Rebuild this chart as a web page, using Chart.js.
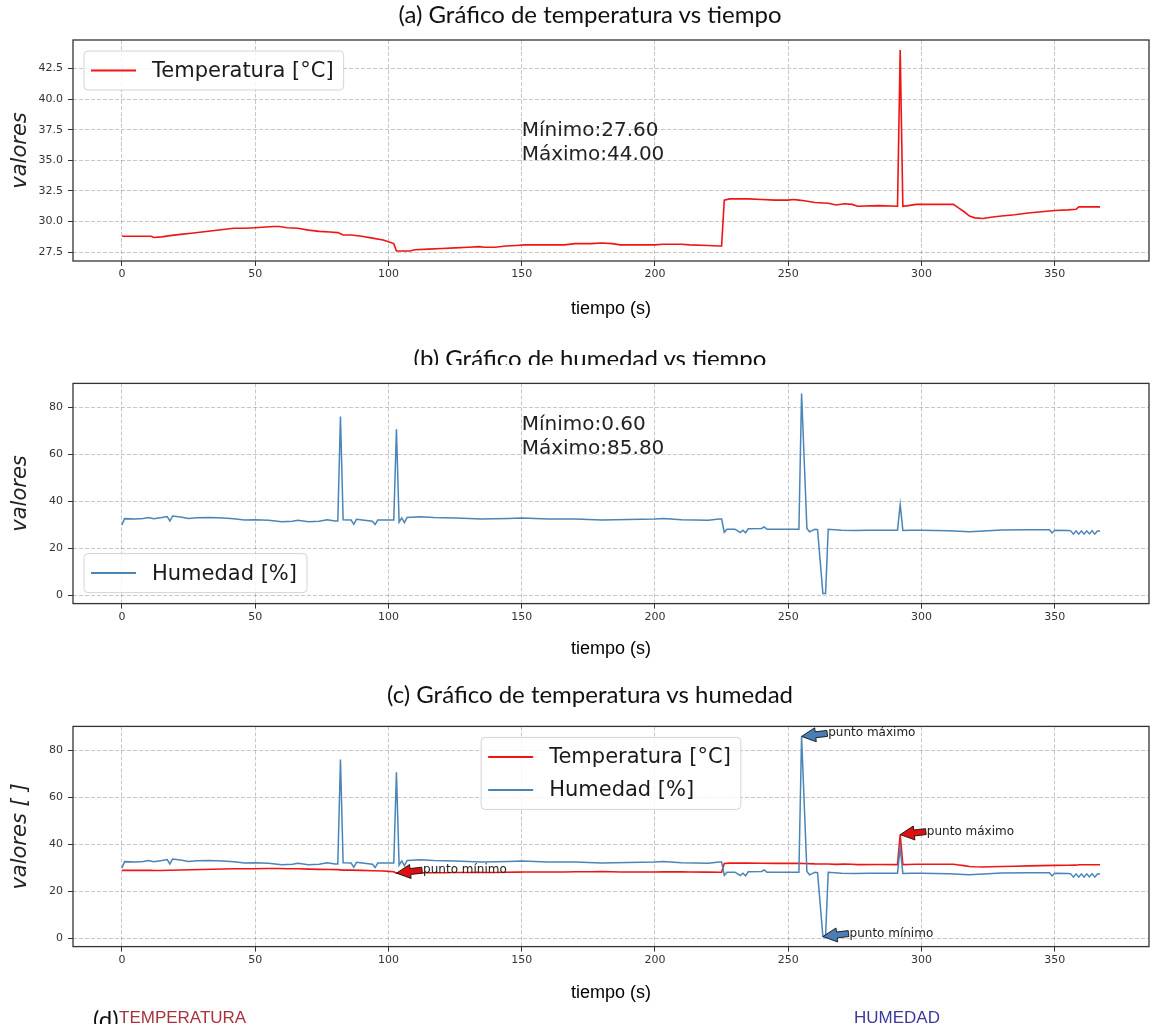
<!DOCTYPE html>
<html lang="es">
<head>
<meta charset="utf-8">
<title>Temperatura y humedad vs tiempo</title>
<script src="https://cdn.jsdelivr.net/npm/chart.js@4.4.0/dist/chart.umd.min.js"></script>
<style>
  body { margin: 0; background: #fff; }
  #hoja { position: relative; width: 1152px; height: 1032px; overflow: hidden; background: #fff; }
  #hoja canvas { position: absolute; left: 0; }
  .titulo { position: absolute; left: 0; width: 1180px; text-align: center; overflow: hidden;
            font-family: Lato, "Open Sans", sans-serif; font-size: 24px; line-height: 28px; color: #111; white-space: nowrap; }
  .etiqueta { position: absolute; font-family: "Liberation Sans", Arial, sans-serif; font-size: 17px; line-height: 20px; white-space: nowrap; }
</style>
</head>
<body>
<div id="hoja">
  <canvas id="graficoA" width="1152" height="330" style="top:0px"></canvas>
  <canvas id="graficoB" width="1152" height="335" style="top:335px"></canvas>
  <canvas id="graficoC" width="1152" height="335" style="top:675px"></canvas>

  <div class="titulo" style="top:0px;height:28px">(a) Gráfico de temperatura vs tiempo</div>
  <div class="titulo" style="top:344px;height:21px">(b) Gráfico de humedad vs tiempo</div>
  <div class="titulo" style="top:680px;height:28px">(c) Gráfico de temperatura vs humedad</div>

  <div class="titulo" style="top:1005px;height:19px;left:93px;width:auto;text-align:left">(d)</div>
  <div class="etiqueta" style="top:1008px;left:119px;color:#a8323e">TEMPERATURA</div>
  <div class="etiqueta" style="top:1008px;left:854px;color:#3b3b9b">HUMEDAD</div>
</div>

<script>
// datos: tiempo (s) y valores
var tiempoTemp = [0, 5, 11, 12, 15, 18, 22, 26, 30, 34, 38, 42, 46, 50, 54, 57, 59, 62, 66, 70,
  74, 78, 81, 83, 86, 90, 94, 98, 100, 102, 103, 108, 110, 115, 120, 125, 130, 134, 136, 140,
  144, 148, 151, 160, 166, 170, 176, 180, 184, 187, 200, 203, 210, 213, 220, 224, 225, 226, 228, 235,
  240, 245, 250, 252, 254, 256, 260, 265, 268, 271, 274, 276, 284, 291, 292, 293, 295, 298, 312, 314,
  316, 318, 320, 323, 326, 330, 335, 340, 345, 350, 355, 358, 359, 367];
var temperatura = [28.8, 28.8, 28.8, 28.7, 28.75, 28.85, 28.95, 29.05, 29.15, 29.25, 29.35, 29.45, 29.45, 29.5, 29.55, 29.6, 29.6, 29.5, 29.45, 29.3,
  29.2, 29.15, 29.1, 28.9, 28.9, 28.8, 28.65, 28.5, 28.35, 28.2, 27.6, 27.6, 27.7, 27.75, 27.8, 27.85, 27.9, 27.95, 27.9, 27.9,
  28.0, 28.05, 28.1, 28.1, 28.1, 28.2, 28.2, 28.25, 28.2, 28.1, 28.1, 28.15, 28.15, 28.1, 28.05, 28.0, 28.0, 31.75, 31.85, 31.85,
  31.8, 31.75, 31.75, 31.8, 31.75, 31.7, 31.55, 31.5, 31.35, 31.45, 31.4, 31.25, 31.3, 31.25, 44.0, 31.25, 31.3, 31.4, 31.4, 31.1,
  30.8, 30.45, 30.3, 30.25, 30.35, 30.45, 30.55, 30.7, 30.8, 30.9, 30.95, 31.0, 31.2, 31.2];

var tiempoHum = [0, 1, 5, 8, 10, 12, 15, 17, 18, 19, 22, 25, 28, 33, 38, 42, 46, 50, 55, 60,
  64, 66, 70, 74, 77, 80, 81, 82, 83, 86, 87, 88, 91, 94, 95, 96, 102, 103, 104, 105,
  106, 107, 112, 117, 125, 135, 145, 150, 160, 170, 180, 190, 200, 203, 210, 220, 224, 225, 226, 227,
  230, 232, 233, 234, 235, 240, 241, 242, 250, 254, 255, 257, 258, 259, 260, 261, 263, 264, 265, 270,
  275, 280, 286, 291, 292, 293, 296, 300, 305, 310, 318, 325, 330, 340, 348, 349, 350, 355, 356, 357,
  358, 359, 360, 361, 362, 363, 364, 365, 366, 367];
var humedad = [29.8, 32.5, 32.3, 32.6, 33.0, 32.5, 33.0, 33.4, 31.5, 33.6, 33.2, 32.6, 32.9, 33.0, 32.8, 32.5, 31.9, 32.0, 31.8, 31.2,
  31.4, 31.8, 31.2, 31.4, 32.0, 31.5, 31.5, 76.0, 32.0, 31.9, 30.1, 32.2, 31.8, 31.4, 30.0, 31.9, 31.9, 70.5, 31.0, 32.8,
  30.8, 33.0, 33.3, 33.0, 32.8, 32.3, 32.6, 32.8, 32.4, 32.3, 31.9, 32.1, 32.3, 32.6, 32.0, 31.8, 32.3, 32.3, 26.7, 28.0,
  28.0, 26.6, 27.6, 26.5, 28.2, 28.3, 29.0, 28.0, 28.0, 28.0, 85.8, 28.3, 26.9, 27.4, 28.0, 27.8, 0.6, 0.6, 28.0, 27.6,
  27.4, 27.6, 27.6, 27.6, 38.5, 27.5, 27.6, 27.6, 27.5, 27.3, 26.9, 27.3, 27.7, 27.8, 27.8, 26.4, 27.6, 27.4, 27.3, 25.9,
  27.3, 25.9, 27.3, 25.9, 27.3, 26.0, 27.4, 25.9, 27.2, 27.2];

var ticksTiempo = [0, 50, 100, 150, 200, 250, 300, 350];
var ticksTemp = [27.5, 30, 32.5, 35, 37.5, 40, 42.5];
var ticksHum = [0, 20, 40, 60, 80];

var colorTemp = '#f01515';
var colorHum = '#4a84b8';

function puntos(xs, ys) {
  return xs.map(function(x, i) { return {x: x, y: ys[i]}; });
}

// margen del 5% como en matplotlib
function rango(vals) {
  var lo = Math.min.apply(null, vals), hi = Math.max.apply(null, vals);
  var m = (hi - lo) * 0.05;
  return {min: lo - m, max: hi + m};
}

function extremo(xs, ys, fn) {
  var v = fn.apply(null, ys);
  var i = ys.indexOf(v);
  return {x: xs[i], y: v};
}

// marco, textos, flechas y leyenda dentro del area del grafico
function extras(cfg) {
  return {
    id: 'extras',
    afterDatasetsDraw: function(chart) {
      var ctx = chart.ctx, a = chart.chartArea;
      var sx = chart.scales.x, sy = chart.scales.y;
      ctx.save();

      ctx.strokeStyle = '#333';
      ctx.lineWidth = 1.3;
      ctx.strokeRect(a.left, a.top, a.right - a.left, a.bottom - a.top);

      (cfg.textos || []).forEach(function(t) {
        ctx.font = '20px "DejaVu Sans"';
        ctx.fillStyle = '#222';
        ctx.textAlign = 'left';
        ctx.textBaseline = 'alphabetic';
        var x = sx.getPixelForValue(t.x), y = sy.getPixelForValue(t.y);
        t.lineas.forEach(function(l, i) {
          ctx.fillText(l, x, y - (t.lineas.length - 1 - i) * 24.5);
        });
      });

      (cfg.flechas || []).forEach(function(f) {
        var x0 = sx.getPixelForValue(f.x), y0 = sy.getPixelForValue(f.y);
        var xt = sx.getPixelForValue(f.x + 10);
        var x1 = xt - 1, y1 = y0 - 3;
        var dx = x1 - x0, dy = y1 - y0, len = Math.sqrt(dx * dx + dy * dy);
        var ux = dx / len, uy = dy / len, nx = -uy, ny = ux;
        var hl = 14, hw = 7, bw = 3;
        function p(along, side) { return [x0 + ux * along + nx * side, y0 + uy * along + ny * side]; }
        var pts = [p(0, 0), p(hl, -hw), p(hl, -bw), p(len, -bw), p(len, bw), p(hl, bw), p(hl, hw)];
        ctx.beginPath();
        ctx.moveTo(pts[0][0], pts[0][1]);
        for (var k = 1; k < pts.length; k++) ctx.lineTo(pts[k][0], pts[k][1]);
        ctx.closePath();
        ctx.fillStyle = f.color;
        ctx.fill();
        ctx.strokeStyle = '#111';
        ctx.lineWidth = 0.9;
        ctx.stroke();
        ctx.font = '12px "DejaVu Sans"';
        ctx.fillStyle = '#222';
        ctx.textAlign = 'left';
        ctx.textBaseline = 'alphabetic';
        ctx.fillText(f.texto, xt, y0);
      });

      if (cfg.leyenda) {
        var ley = cfg.leyenda;
        ctx.font = '21px "DejaVu Sans"';
        var tw = 0;
        ley.items.forEach(function(it) { tw = Math.max(tw, ctx.measureText(it.texto).width); });
        var w = 68 + tw + 10, h = ley.items.length * 33 + 6;
        var bx = a.left + 11, by = a.top + 11;
        if (ley.lugar === 'abajo-izq') by = a.bottom - 11 - h;
        if (ley.lugar === 'arriba-centro') bx = (a.left + a.right) / 2 - w / 2;
        ctx.beginPath();
        ctx.roundRect(bx, by, w, h, 4);
        ctx.fillStyle = 'rgba(255,255,255,0.8)';
        ctx.fill();
        ctx.strokeStyle = '#d4d4d4';
        ctx.lineWidth = 1;
        ctx.stroke();
        ley.items.forEach(function(it, i) {
          var cy = by + 3 + 16.5 + i * 33;
          ctx.strokeStyle = it.color;
          ctx.lineWidth = 2;
          ctx.beginPath();
          ctx.moveTo(bx + 7, cy);
          ctx.lineTo(bx + 52, cy);
          ctx.stroke();
          ctx.fillStyle = '#1a1a1a';
          ctx.textAlign = 'left';
          ctx.textBaseline = 'middle';
          ctx.fillText(it.texto, bx + 68, cy + 1);
        });
      }
      ctx.restore();
    }
  };
}

function ejes(cfgY, altoX, padTitulo) {
  var rx = rango(tiempoTemp.concat(tiempoHum));
  var grid = {color: 'rgba(0,0,0,0.22)', lineWidth: 1, tickLength: 5, tickColor: '#333', tickWidth: 1, tickBorderDash: []};
  return {
    x: {
      type: 'linear', min: rx.min, max: rx.max,
      afterBuildTicks: function(s) { s.ticks = ticksTiempo.map(function(v) { return {value: v}; }); },
      afterFit: function(s) { s.height = altoX; },
      grid: grid,
      border: {display: false, dash: [4, 2]},
      ticks: {font: {family: 'DejaVu Sans', size: 11}, color: '#333', padding: 2, maxRotation: 0},
      title: {display: true, text: 'tiempo (s)', color: '#000', font: {family: 'Liberation Sans', size: 18}, padding: {top: 0, bottom: padTitulo}}
    },
    y: {
      type: 'linear', min: cfgY.min, max: cfgY.max,
      afterBuildTicks: function(s) { s.ticks = cfgY.ticks.map(function(v) { return {value: v}; }); },
      afterFit: function(s) { s.width = 73; },
      grid: grid,
      border: {display: false, dash: [4, 2]},
      ticks: {font: {family: 'DejaVu Sans', size: 11}, color: '#333', padding: 5, callback: cfgY.formato},
      title: {display: true, text: cfgY.titulo, color: '#222', font: {family: 'DejaVu Sans', size: 21, style: 'italic'}, padding: {top: 8.4, bottom: 0}}
    }
  };
}

function grafico(id, datasets, escalas, padTop, extra) {
  return new Chart(document.getElementById(id), {
    type: 'line',
    data: {datasets: datasets},
    options: {
      responsive: false,
      animation: false,
      devicePixelRatio: 1,
      events: [],
      layout: {padding: {top: padTop, right: 3, bottom: 0, left: 0}},
      elements: {point: {radius: 0}, line: {tension: 0}},
      plugins: {legend: {display: false}, tooltip: {enabled: false}},
      scales: escalas
    },
    plugins: [extras(extra)]
  });
}

var serieTemp = {label: 'Temperatura [°C]', data: puntos(tiempoTemp, temperatura), borderColor: colorTemp, borderWidth: 1.6, order: 1};
var serieHum = {label: 'Humedad [%]', data: puntos(tiempoHum, humedad), borderColor: colorHum, borderWidth: 1.5, order: 0};

var rT = rango(temperatura), rH = rango(humedad), rTH = rango(temperatura.concat(humedad));
var minT = extremo(tiempoTemp, temperatura, Math.min), maxT = extremo(tiempoTemp, temperatura, Math.max);
var minH = extremo(tiempoHum, humedad, Math.min), maxH = extremo(tiempoHum, humedad, Math.max);

// (a) temperatura vs tiempo
grafico('graficoA', [serieTemp],
  ejes({min: rT.min, max: rT.max, ticks: ticksTemp, titulo: 'valores', formato: function(v) { return v.toFixed(1); }}, 69, 9.7),
  40,
  {
    textos: [{x: 150, y: 35, lineas: ['Mínimo:' + minT.y.toFixed(2), 'Máximo:' + maxT.y.toFixed(2)]}],
    leyenda: {lugar: 'arriba-izq', items: [{texto: 'Temperatura [°C]', color: colorTemp}]}
  });

// (b) humedad vs tiempo
grafico('graficoB', [serieHum],
  ejes({min: rH.min, max: rH.max, ticks: ticksHum, titulo: 'valores', formato: function(v) { return v; }}, 66.4, 9.7),
  48.4,
  {
    textos: [{x: 150, y: 60, lineas: ['Mínimo:' + minH.y.toFixed(2), 'Máximo:' + maxH.y.toFixed(2)]}],
    leyenda: {lugar: 'abajo-izq', items: [{texto: 'Humedad [%]', color: colorHum}]}
  });

// (c) temperatura y humedad juntas
grafico('graficoC', [Object.assign({}, serieTemp), Object.assign({}, serieHum)],
  ejes({min: rTH.min, max: rTH.max, ticks: ticksHum, titulo: 'valores [ ]', formato: function(v) { return v; }}, 63.4, 5.7),
  51.4,
  {
    flechas: [
      {x: minT.x, y: minT.y, texto: 'punto mínimo', color: '#e01010'},
      {x: maxT.x, y: maxT.y, texto: 'punto máximo', color: '#e01010'},
      {x: maxH.x, y: maxH.y, texto: 'punto máximo', color: '#4a7fb5'},
      {x: minH.x, y: minH.y, texto: 'punto mínimo', color: '#4a7fb5'}
    ],
    leyenda: {lugar: 'arriba-centro', items: [{texto: 'Temperatura [°C]', color: colorTemp}, {texto: 'Humedad [%]', color: colorHum}]}
  });
</script>
</body>
</html>
